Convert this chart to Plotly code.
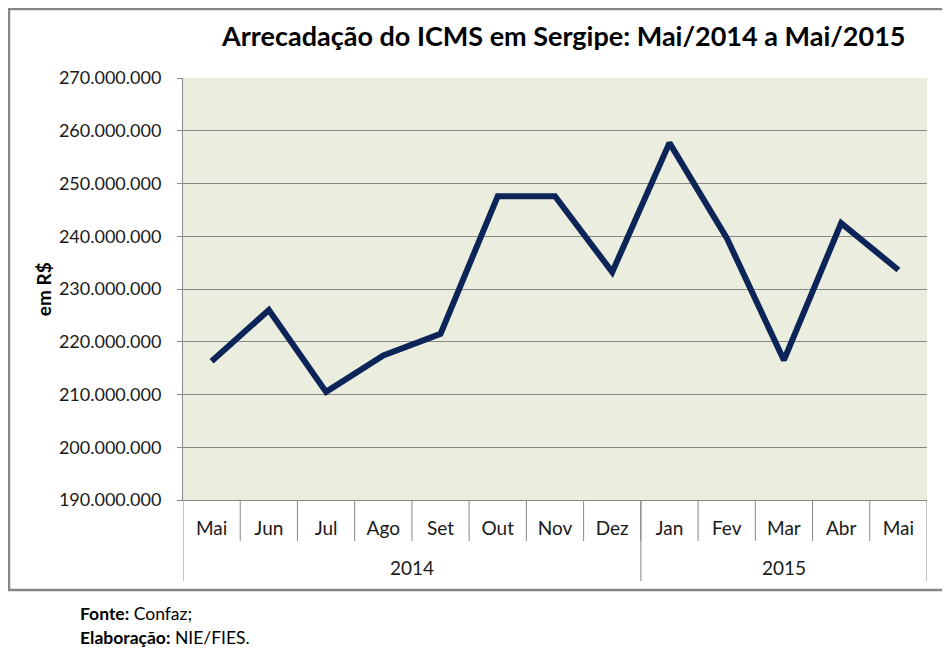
import plotly.graph_objects as go

meses = ["Mai", "Jun", "Jul", "Ago", "Set", "Out", "Nov", "Dez",
         "Jan", "Fev", "Mar", "Abr", "Mai"]
anos = ["2014"] * 8 + ["2015"] * 5
arrecadacao = [216300000, 226000000, 210500000, 217400000, 221500000,
               247600000, 247600000, 233200000, 257700000, 239700000,
               216500000, 242500000, 233600000]

posicoes = list(range(len(meses)))
fonte = "Lato, sans-serif"
cinza = "#878787"

fig = go.Figure(go.Scatter(
    x=posicoes,
    y=arrecadacao,
    mode="lines",
    line=dict(color="#0c2457", width=6),
))

fig.update_layout(
    width=942,
    height=654,
    margin=dict(l=175, r=23, t=70, b=162),
    paper_bgcolor="white",
    plot_bgcolor="#ebeedf",
    showlegend=False,
    separators=",.",
    font=dict(family=fonte, size=19, color="#1a1a1a"),
    title=dict(
        text="<b>Arrecadação do ICMS em Sergipe: Mai/2014 a Mai/2015</b>",
        x=0.59, xanchor="center", y=0.956, yanchor="middle",
        font=dict(size=27, color="black"),
    ),
)

fig.update_yaxes(
    range=[190000000, 270000000],
    dtick=10000000,
    tickformat=",.0f",
    tickfont=dict(size=18),
    showgrid=True,
    gridcolor=cinza,
    gridwidth=1,
    showline=True,
    linecolor=cinza,
    ticks="outside",
    ticklen=5,
    tickcolor=cinza,
    ticklabelstandoff=12,
    zeroline=False,
)

fig.update_xaxes(
    range=[-0.5, len(meses) - 0.5],
    tickvals=posicoes,
    ticktext=meses,
    ticks="",
    ticklabelstandoff=11,
    showline=True,
    linecolor=cinza,
    showgrid=False,
    zeroline=False,
)

# separadores dos meses e dos anos no eixo x
for i in range(1, len(meses)):
    fig.add_shape(type="line", xref="x", yref="paper",
                  x0=i - 0.5, x1=i - 0.5, y0=0, y1=-0.097,
                  line=dict(color=cinza, width=1))
limites = [-0.5] + [i - 0.5 for i in range(1, len(anos)) if anos[i] != anos[i - 1]] + [len(anos) - 0.5]
for b in limites:
    fig.add_shape(type="line", xref="x", yref="paper",
                  x0=b, x1=b, y0=0, y1=-0.192,
                  line=dict(color=cinza, width=1))
for a, b in zip(limites[:-1], limites[1:]):
    fig.add_annotation(xref="x", yref="paper", x=(a + b) / 2, y=-0.161,
                       text=anos[int(a + 0.5)], showarrow=False,
                       yanchor="middle", font=dict(size=19, color="#1a1a1a"))

# moldura externa do gráfico
fig.add_shape(
    type="rect", xref="paper", yref="paper",
    x0=-0.2339, x1=1.0289, y0=-0.2133, y1=1.1635,
    line=dict(color="#868686", width=2.5),
)

fig.add_annotation(
    xref="paper", yref="paper", x=-0.188, y=0.5, textangle=-90,
    xanchor="center", yanchor="middle",
    showarrow=False, text="<b>em R$</b>", font=dict(size=19, color="black"),
)

fig.add_annotation(
    xref="paper", yref="paper", x=-0.1411, y=-0.268,
    xanchor="left", yanchor="middle", showarrow=False, align="left",
    text="<b>Fonte:</b> Confaz;", font=dict(size=17.5, color="black"),
)
fig.add_annotation(
    xref="paper", yref="paper", x=-0.1411, y=-0.327,
    xanchor="left", yanchor="middle", showarrow=False, align="left",
    text="<b>Elaboração:</b> NIE/FIES.", font=dict(size=17.5, color="black"),
)

fig.write_html("out.html")
